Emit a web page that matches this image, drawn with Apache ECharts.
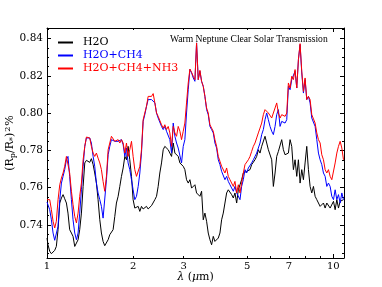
<!DOCTYPE html>
<html>
<head>
<meta charset="utf-8">
<script src="https://cdn.jsdelivr.net/npm/echarts@6/dist/echarts.min.js"></script>
<style>html,body{margin:0;padding:0;background:#fff;}#c{width:382px;height:287px;}</style>
</head>
<body>
<div id="c"></div>
<script>
const wavelength = [1.000,1.008,1.022,1.036,1.050,1.064,1.078,1.093,1.108,1.123,1.138,1.153,1.169,1.184,1.200,1.217,1.233,1.250,1.267,1.284,1.301,1.319,1.337,1.355,1.373,1.392,1.410,1.429,1.449,1.468,1.488,1.508,1.529,1.549,1.570,1.591,1.613,1.635,1.657,1.679,1.702,1.725,1.748,1.772,1.796,1.820,1.845,1.870,1.895,1.920,1.946,1.973,1.999,2.026,2.054,2.082,2.110,2.138,2.167,2.196,2.226,2.256,2.287,2.318,2.349,2.381,2.413,2.445,2.478,2.512,2.546,2.580,2.615,2.651,2.686,2.723,2.760,2.797,2.835,2.873,2.912,2.951,2.991,3.031,3.072,3.114,3.156,3.199,3.242,3.286,3.330,3.375,3.421,3.467,3.514,3.561,3.610,3.658,3.708,3.758,3.809,3.860,3.912,3.965,4.019,4.073,4.128,4.184,4.241,4.298,4.356,4.415,4.475,4.535,4.597,4.659,4.722,4.785,4.850,4.916,4.982,5.050,5.118,5.187,5.257,5.328,5.400,5.473,5.547,5.622,5.698,5.775,5.853,5.932,6.013,6.094,6.176,6.260,6.344,6.430,6.517,6.605,6.694,6.785,6.877,6.970,7.064,7.159,7.256,7.354,7.454,7.554,7.657,7.760,7.865,7.971,8.079,8.188,8.299,8.411,8.525,8.640,8.757,8.875,8.995,9.117,9.240,9.365,9.492,9.620,9.750,9.882,10.016,10.151,10.288,10.427,10.568,10.711,10.856];

const h2o = [0.7330,0.7294,0.7259,0.7246,0.7246,0.7264,0.7285,0.7375,0.7518,0.7545,0.7563,0.7541,0.7518,0.7464,0.7375,0.7357,0.7339,0.7285,0.7276,0.7321,0.7375,0.7464,0.7607,0.7733,0.7747,0.7750,0.7736,0.7756,0.7724,0.7679,0.7625,0.7536,0.7428,0.7357,0.7312,0.7289,0.7285,0.7321,0.7348,0.7357,0.7375,0.7446,0.7518,0.7554,0.7607,0.7661,0.7706,0.7768,0.7750,0.7822,0.7750,0.7661,0.7536,0.7491,0.7482,0.7500,0.7473,0.7500,0.7486,0.7482,0.7500,0.7486,0.7491,0.7504,0.7509,0.7536,0.7554,0.7607,0.7679,0.7733,0.7804,0.7822,0.7831,0.7804,0.7786,0.7768,0.7840,0.7786,0.7795,0.7768,0.7733,0.7724,0.7715,0.7697,0.7643,0.7625,0.7643,0.7598,0.7589,0.7616,0.7572,0.7581,0.7554,0.7581,0.7428,0.7464,0.7420,0.7357,0.7321,0.7294,0.7339,0.7312,0.7303,0.7330,0.7357,0.7428,0.7464,0.7518,0.7572,0.7589,0.7598,0.7563,0.7545,0.7572,0.7518,0.7589,0.7616,0.7643,0.7679,0.7679,0.7688,0.7679,0.7697,0.7724,0.7733,0.7750,0.7768,0.7804,0.7786,0.7822,0.7831,0.7876,0.7840,0.7804,0.7813,0.7750,0.7607,0.7679,0.7768,0.7795,0.7804,0.7858,0.7804,0.7777,0.7768,0.7786,0.7858,0.7822,0.7697,0.7750,0.7661,0.7750,0.7625,0.7697,0.7643,0.7733,0.7822,0.7697,0.7607,0.7572,0.7607,0.7554,0.7536,0.7545,0.7500,0.7491,0.7518,0.7491,0.7518,0.7509,0.7491,0.7500,0.7527,0.7482,0.7536,0.7491,0.7527,0.7518,0.7536];

const h2oCh4 = [0.7523,0.7515,0.7482,0.7428,0.7357,0.7318,0.7325,0.7393,0.7536,0.7625,0.7661,0.7697,0.7750,0.7768,0.7661,0.7536,0.7428,0.7357,0.7321,0.7357,0.7464,0.7589,0.7715,0.7822,0.7867,0.7876,0.7867,0.7840,0.7768,0.7715,0.7625,0.7572,0.7536,0.7500,0.7437,0.7428,0.7643,0.7777,0.7822,0.7858,0.7867,0.7849,0.7840,0.7849,0.7840,0.7858,0.7831,0.7768,0.7813,0.7733,0.7697,0.7643,0.7589,0.7536,0.7554,0.7607,0.7679,0.7786,0.7956,0.7992,0.8037,0.8073,0.8082,0.8073,0.8082,0.8055,0.8001,0.7974,0.7965,0.7929,0.7912,0.7929,0.7903,0.7912,0.7858,0.7786,0.7947,0.7876,0.7840,0.7813,0.7804,0.7733,0.7822,0.7858,0.8001,0.8126,0.8234,0.8216,0.8189,0.8171,0.8377,0.8180,0.8225,0.8171,0.8144,0.8090,0.8019,0.7992,0.7929,0.7912,0.7894,0.7840,0.7813,0.7750,0.7724,0.7688,0.7679,0.7643,0.7661,0.7634,0.7616,0.7607,0.7581,0.7607,0.7572,0.7581,0.7536,0.7607,0.7643,0.7697,0.7679,0.7706,0.7697,0.7733,0.7750,0.7759,0.7786,0.7813,0.7840,0.7885,0.7912,0.7965,0.8001,0.7965,0.7929,0.7903,0.7885,0.7929,0.7992,0.8019,0.7929,0.7956,0.7965,0.7947,0.7965,0.8144,0.8126,0.8180,0.8171,0.8225,0.8135,0.8287,0.8368,0.8216,0.8108,0.8180,0.8073,0.8090,0.8055,0.7974,0.7983,0.7929,0.7858,0.7786,0.7750,0.7724,0.7679,0.7661,0.7607,0.7625,0.7607,0.7554,0.7536,0.7589,0.7536,0.7563,0.7518,0.7572,0.7536];

const h2oCh4Nh3 = [0.7536,0.7541,0.7536,0.7482,0.7420,0.7384,0.7420,0.7536,0.7616,0.7652,0.7679,0.7715,0.7768,0.7768,0.7679,0.7581,0.7509,0.7446,0.7411,0.7464,0.7554,0.7625,0.7750,0.7822,0.7872,0.7876,0.7867,0.7822,0.7786,0.7768,0.7786,0.7759,0.7733,0.7697,0.7634,0.7581,0.7661,0.7804,0.7840,0.7876,0.7867,0.7849,0.7840,0.7858,0.7840,0.7858,0.7840,0.7786,0.7840,0.7768,0.7804,0.7849,0.7768,0.7697,0.7661,0.7670,0.7715,0.7804,0.7965,0.8001,0.8037,0.8090,0.8099,0.8090,0.8105,0.8055,0.8001,0.7983,0.7974,0.7938,0.7920,0.7938,0.7912,0.7929,0.7894,0.7822,0.7929,0.7894,0.7876,0.7929,0.7903,0.7858,0.7903,0.7947,0.8055,0.8162,0.8237,0.8219,0.8198,0.8180,0.8377,0.8180,0.8230,0.8171,0.8144,0.8090,0.8028,0.8001,0.7938,0.7920,0.7903,0.7858,0.7822,0.7768,0.7742,0.7715,0.7706,0.7679,0.7706,0.7661,0.7643,0.7634,0.7607,0.7634,0.7572,0.7616,0.7572,0.7625,0.7679,0.7724,0.7733,0.7750,0.7768,0.7795,0.7822,0.7840,0.7867,0.7894,0.7920,0.7947,0.7992,0.8019,0.8028,0.8001,0.8010,0.7974,0.8001,0.8028,0.8055,0.8001,0.7974,0.7992,0.8001,0.7983,0.8001,0.8162,0.8135,0.8198,0.8180,0.8234,0.8135,0.8287,0.8373,0.8225,0.8117,0.8189,0.8073,0.8090,0.8073,0.7992,0.7983,0.7947,0.7894,0.7858,0.7840,0.7777,0.7750,0.7697,0.7679,0.7697,0.7661,0.7643,0.7643,0.7733,0.7786,0.7822,0.7849,0.7813,0.7750];

const seriesNames = ['H2O', 'H2O+CH4', 'H2O+CH4+NH3'];
const seriesColors = ['#000000', '#0000ff', '#ff0000'];
const xTickLabels = [1, 2, 3, 5, 7, 10];
const xMajorTicks = [1, 10];
const xMinorTicks = [2, 3, 4, 5, 6, 7, 8, 9];
const yTickLabels = [0.74, 0.76, 0.78, 0.80, 0.82, 0.84];
const yMinorTicks = [0.725, 0.73, 0.735, 0.745, 0.75, 0.755, 0.765, 0.77, 0.775, 0.785, 0.79, 0.795, 0.805, 0.81, 0.815, 0.825, 0.83, 0.835, 0.845];
const titleText = 'Warm Neptune Clear Solar Transmission';

const XMIN = 1, XMAX = 10.9, YMIN = 0.7223, YMAX = 0.8457;
const serif = '"DejaVu Serif", serif';

function xAx(pos, ticks, len, showLabel, showLine) {
  return {
    type: 'log', logBase: 10, min: XMIN, max: XMAX, position: pos, gridIndex: 0,
    axisLine: {show: showLine, onZero: false, lineStyle: {color: '#000', width: 1}},
    axisTick: {show: true, inside: true, length: len, customValues: ticks, lineStyle: {color: '#000', width: 1}},
    axisLabel: {show: showLabel, customValues: xTickLabels, fontFamily: serif, fontSize: 10, color: '#000', margin: 3,
      formatter: v => String(Math.round(v))},
    splitLine: {show: false}, minorTick: {show: false}
  };
}
function yAx(pos, ticks, len, showLabel, showLine) {
  return {
    type: 'value', min: YMIN, max: YMAX, position: pos, gridIndex: 0,
    axisLine: {show: showLine, onZero: false, lineStyle: {color: '#000', width: 1}},
    axisTick: {show: true, inside: true, length: len, customValues: ticks, lineStyle: {color: '#000', width: 1}},
    axisLabel: {show: showLabel, customValues: yTickLabels, fontFamily: serif, fontSize: 10.5, color: '#000', margin: 4,
      formatter: v => v.toFixed(2)},
    splitLine: {show: false}
  };
}

const xAxes = [
  xAx('bottom', xMajorTicks, 4, true, true),
  xAx('bottom', xMinorTicks, 2, false, false),
  xAx('top', xMajorTicks, 4, false, true),
  xAx('top', xMinorTicks, 2, false, false)
];
xAxes[0].name = '{l|λ} ({l|μ}m)';
xAxes[0].nameLocation = 'middle';
xAxes[0].nameGap = 14;
xAxes[0].nameMoveOverlap = false;
xAxes[0].nameTextStyle = {fontFamily: serif, fontSize: 11, color: '#000', rich: {l: {fontFamily: serif, fontStyle: 'italic', fontSize: 11}}};

const yAxes = [
  yAx('left', yTickLabels, 4, true, true),
  yAx('left', yMinorTicks, 2, false, false),
  yAx('right', yTickLabels, 4, false, true),
  yAx('right', yMinorTicks, 2, false, false)
];
yAxes[0].name = '(R{s|p}/R{s|*}){u|2}%';
yAxes[0].nameLocation = 'middle';
yAxes[0].nameRotate = 90;
yAxes[0].nameGap = 30;
yAxes[0].nameMoveOverlap = false;
yAxes[0].nameTextStyle = {fontFamily: serif, fontSize: 11, color: '#000',
  rich: {s: {fontFamily: serif, fontSize: 8, verticalAlign: 'bottom', padding: [4, 0, 0, 0]},
         u: {fontFamily: serif, fontSize: 8, verticalAlign: 'top', padding: [0, 1, 5, 1]}}};

const chart = echarts.init(document.getElementById('c'), null, {renderer: 'canvas'});
chart.setOption({
  animation: false,
  backgroundColor: '#fff',
  grid: {left: 47, top: 28, width: 297, height: 230, containLabel: false, outerBoundsMode: 'none'},
  title: {text: titleText, left: 170, top: 34, padding: 0, textStyle: {fontFamily: '"Liberation Serif", serif', fontSize: 9.6, fontWeight: 'normal', color: '#000'}},
  legend: {
    orient: 'vertical', left: 58, top: 37, padding: 0, itemWidth: 15, itemHeight: 2, itemGap: 2, icon: 'rect',
    data: seriesNames.map((n, i) => ({name: n, textStyle: {color: seriesColors[i]}})),
    formatter: n => '{g|}' + n,
    textStyle: {fontFamily: serif, fontSize: 11, rich: {g: {width: 5}}}
  },
  xAxis: xAxes,
  yAxis: yAxes,
  series: [h2o, h2oCh4, h2oCh4Nh3].map((vals, i) => ({
    name: seriesNames[i], type: 'line', xAxisIndex: 0, yAxisIndex: 0,
    showSymbol: false, symbol: 'none', clip: true,
    lineStyle: {color: seriesColors[i], width: 1}, itemStyle: {color: seriesColors[i]},
    data: wavelength.map((w, k) => [w, vals[k]])
  }))
});
</script>
</body>
</html>
